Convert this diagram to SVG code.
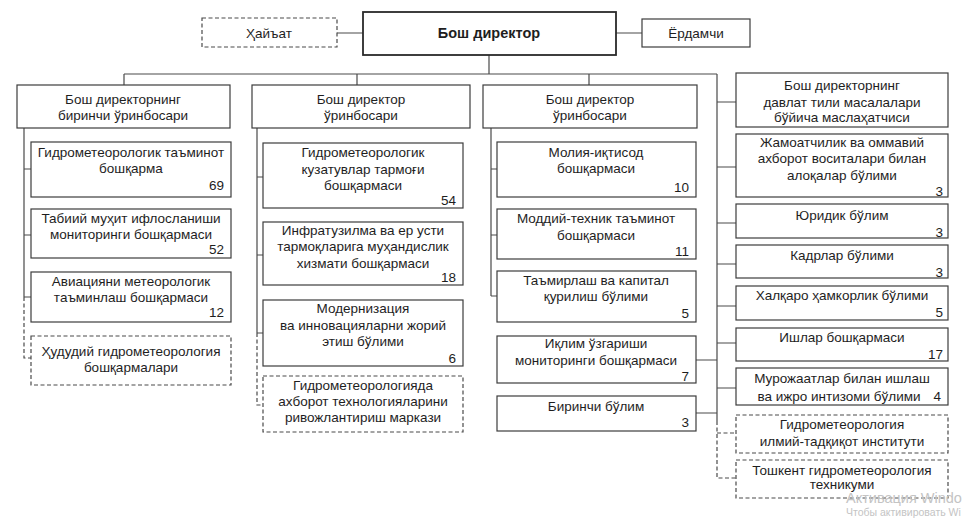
<svg xmlns="http://www.w3.org/2000/svg" width="971" height="518" viewBox="0 0 971 518">
<style>
text{font-family:"Liberation Sans",Arial,sans-serif;font-size:13.5px;fill:#1e1e1e}
.c{text-anchor:middle}
.n{text-anchor:end}
.b{fill:#fff;stroke:#3c3c3c;stroke-width:1.2}
.d{fill:#fff;stroke:#4a4a4a;stroke-width:1.2;stroke-dasharray:4 2.5}
.main{fill:#fff;stroke:#2a2a2a;stroke-width:1.8}
.l{fill:none;stroke:#4a4a4a;stroke-width:1.2}
.ld{fill:none;stroke:#4a4a4a;stroke-width:1.2;stroke-dasharray:4 2.5}
.bold{font-weight:bold;font-size:14.5px}
.wm{fill:#c4c4c4;font-family:"Liberation Sans",Arial,sans-serif}
</style>
<rect width="971" height="518" fill="#fff"/>
<g id="connectors">
<path class="l" d="M337 33H363M616 33H642M489 55V74M124 74H717M124 74V85M357 74V85M589 74V85"/>
<path class="l" d="M24 128V297M24 169H31M24 235H31M24 297H31"/>
<path class="ld" d="M24 297V358H31"/>
<path class="l" d="M257 128V333M257 177H263M257 255H263M257 333H263"/>
<path class="ld" d="M257 333V405H263"/>
<path class="l" d="M491 128V296M491 169H497M491 235H497M491 296H497"/>
<path class="l" d="M717 74V421M717 102H736M717 167H736M717 223H736M717 264H736M717 306H736M717 343H736M717 388H736M696 360H717M696 413H717"/>
<path class="ld" d="M717 421V478H736M717 433H736"/>
</g>
<g id="hayat"><rect class="d" x="202" y="18" width="135" height="29"/><text class="c" x="269" y="38">Ҳайъат</text></g>
<g id="bosh-direktor"><rect class="main" x="363" y="12" width="253" height="43"/><text class="c bold" x="489" y="38">Бош директор</text></g>
<g id="yordamchi"><rect class="b" x="642" y="19" width="108" height="28"/><text class="c" x="696" y="38">Ёрдамчи</text></g>

<g id="col1-head"><rect class="b" x="17" y="85" width="213" height="43"/><text class="c" x="123" y="104">Бош директорнинг</text><text class="c" x="123" y="120">биринчи ўринбосари</text></g>
<g id="c1-1"><rect class="b" x="31" y="142" width="200" height="55"/><text class="c" x="131" y="157">Гидрометеорологик таъминот</text><text class="c" x="131" y="173">бошқарма</text><text class="n" x="224" y="190">69</text></g>
<g id="c1-2"><rect class="b" x="31" y="209" width="200" height="49"/><text class="c" x="131" y="223">Табиий муҳит ифлосланиши</text><text class="c" x="131" y="239">мониторинги бошқармаси</text><text class="n" x="224" y="254">52</text></g>
<g id="c1-3"><rect class="b" x="31" y="272" width="200" height="50"/><text class="c" x="131" y="286">Авиацияни метеорологик</text><text class="c" x="131" y="302">таъминлаш бошқармаси</text><text class="n" x="224" y="317">12</text></g>
<g id="c1-4"><rect class="d" x="31" y="336" width="200" height="49"/><text class="c" x="131" y="356">Ҳудудий гидрометеорология</text><text class="c" x="131" y="372">бошқармалари</text></g>

<g id="col2-head"><rect class="b" x="252" y="85" width="218" height="43"/><text class="c" x="361" y="104">Бош директор</text><text class="c" x="361" y="120">ўринбосари</text></g>
<g id="c2-1"><rect class="b" x="263" y="143" width="200" height="65"/><text class="c" x="363" y="157">Гидрометеорологик</text><text class="c" x="363" y="174">кузатувлар тармоғи</text><text class="c" x="363" y="190">бошқармаси</text><text class="n" x="456" y="205">54</text></g>
<g id="c2-2"><rect class="b" x="263" y="222" width="200" height="63"/><text class="c" x="363" y="235">Инфратузилма ва ер усти</text><text class="c" x="363" y="251">тармоқларига муҳандислик</text><text class="c" x="363" y="268">хизмати бошқармаси</text><text class="n" x="456" y="282">18</text></g>
<g id="c2-3"><rect class="b" x="263" y="300" width="200" height="66"/><text class="c" x="363" y="313">Модернизация</text><text class="c" x="363" y="330">ва инновацияларни жорий</text><text class="c" x="363" y="346">этиш бўлими</text><text class="n" x="456" y="363">6</text></g>
<g id="c2-4"><rect class="d" x="263" y="376" width="200" height="56"/><text class="c" x="363" y="390">Гидрометеорологияда</text><text class="c" x="363" y="406">ахборот технологияларини</text><text class="c" x="363" y="422">ривожлантириш маркази</text></g>

<g id="col3-head"><rect class="b" x="483" y="85" width="214" height="43"/><text class="c" x="590" y="104">Бош директор</text><text class="c" x="590" y="120">ўринбосари</text></g>
<g id="c3-1"><rect class="b" x="497" y="142" width="199" height="55"/><text class="c" x="596" y="157">Молия-иқтисод</text><text class="c" x="596" y="173">бошқармаси</text><text class="n" x="689" y="192">10</text></g>
<g id="c3-2"><rect class="b" x="497" y="209" width="199" height="50"/><text class="c" x="596" y="223">Моддий-техник таъминот</text><text class="c" x="596" y="240">бошқармаси</text><text class="n" x="689" y="256">11</text></g>
<g id="c3-3"><rect class="b" x="497" y="271" width="199" height="51"/><text class="c" x="596" y="285">Таъмирлаш ва капитал</text><text class="c" x="596" y="301">қурилиш бўлими</text><text class="n" x="689" y="318">5</text></g>
<g id="c3-4"><rect class="b" x="497" y="336" width="199" height="47"/><text class="c" x="596" y="348">Иқлим ўзгариши</text><text class="c" x="596" y="365">мониторинги бошқармаси</text><text class="n" x="689" y="381">7</text></g>
<g id="c3-5"><rect class="b" x="497" y="396" width="199" height="35"/><text class="c" x="596" y="411">Биринчи бўлим</text><text class="n" x="689" y="427">3</text></g>

<g id="r-1"><rect class="b" x="736" y="73" width="212" height="54"/><text class="c" x="842" y="90">Бош директорнинг</text><text class="c" x="842" y="107">давлат тили масалалари</text><text class="c" x="842" y="122">бўйича маслаҳатчиси</text></g>
<g id="r-2"><rect class="b" x="736" y="134" width="212" height="63"/><text class="c" x="842" y="147">Жамоатчилик ва оммавий</text><text class="c" x="842" y="163">ахборот воситалари билан</text><text class="c" x="842" y="180">алоқалар бўлими</text><text class="n" x="943" y="196">3</text></g>
<g id="r-3"><rect class="b" x="736" y="204" width="212" height="34"/><text class="c" x="842" y="220">Юридик бўлим</text><text class="n" x="943" y="237">3</text></g>
<g id="r-4"><rect class="b" x="736" y="245" width="212" height="33"/><text class="c" x="842" y="260">Кадрлар бўлими</text><text class="n" x="943" y="277">3</text></g>
<g id="r-5"><rect class="b" x="736" y="286" width="212" height="34"/><text class="c" x="842" y="300">Халқаро ҳамкорлик бўлими</text><text class="n" x="943" y="317">5</text></g>
<g id="r-6"><rect class="b" x="736" y="328" width="212" height="33"/><text class="c" x="842" y="342">Ишлар бошқармаси</text><text class="n" x="943" y="359">17</text></g>
<g id="r-7"><rect class="b" x="736" y="368" width="212" height="37"/><text class="c" x="842" y="383">Мурожаатлар билан ишлаш</text><text class="c" x="839" y="401">ва ижро интизоми бўлими</text><text class="n" x="941" y="401">4</text></g>
<g id="r-8"><rect class="d" x="736" y="415" width="212" height="38"/><text class="c" x="842" y="429">Гидрометеорология</text><text class="c" x="842" y="446">илмий-тадқиқот институти</text></g>
<g id="r-9"><rect class="d" x="736" y="460" width="212" height="38"/><text class="c" x="842" y="475">Тошкент гидрометеорология</text><text class="c" x="842" y="489">техникуми</text></g>

<text class="wm" x="846" y="503" style="font-size:14.5px">Активация Windo</text>
<text class="wm" x="846" y="515.5" style="font-size:10.5px">Чтобы активировать Wi</text>
</svg>
